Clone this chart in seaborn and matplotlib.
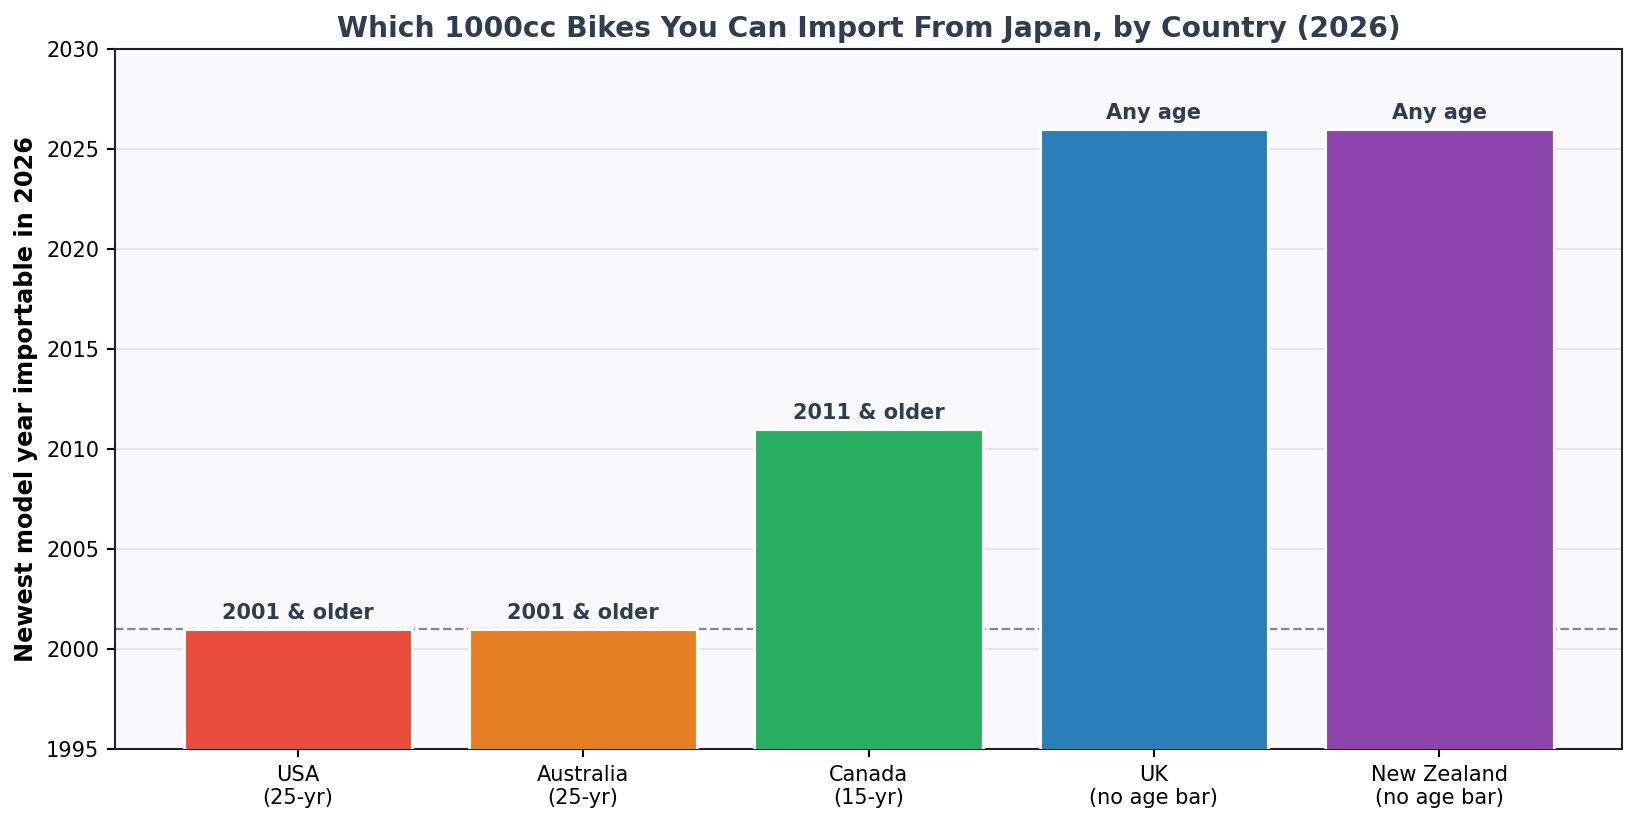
import matplotlib
matplotlib.use("Agg")
import matplotlib.pyplot as plt
import seaborn as sns
import pandas as pd

countries = ["USA\n(25-yr)", "Australia\n(25-yr)", "Canada\n(15-yr)", "UK\n(no age bar)", "New Zealand\n(no age bar)"]
newest_year = [2001, 2001, 2011, 2026, 2026]
bar_labels = ["2001 & older", "2001 & older", "2011 & older", "Any age", "Any age"]
colors = ["#e74c3c", "#e67e22", "#27ae60", "#2980b9", "#8e44ad"]

df = pd.DataFrame({"country": countries, "year": newest_year})

sns.set_style("white")
plt.rcParams['font.family'] = ['DejaVu Sans']

fig = plt.figure(figsize=(1636/150, 822/150), dpi=150)
ax = fig.add_axes([115/1636, 1-749/822, (1622-115)/1636, (749-49)/822])
ax.set_facecolor("#fafafc")

sns.barplot(data=df, x="country", y="year", hue="country", palette=colors,
            legend=False, width=0.8, edgecolor="white", linewidth=1.5,
            ax=ax, zorder=3, saturation=1)

ax.axhline(2001, color="#7f8c8d", linestyle="--", linewidth=1.1, zorder=2)
ax.yaxis.grid(True, color="#e6e6ea", linewidth=1, zorder=0)
ax.set_axisbelow(True)

for i, (v, lab) in enumerate(zip(newest_year, bar_labels)):
    ax.text(i, v + 0.3, lab, ha="center", va="bottom", fontsize=10,
            fontweight="bold", color="#2c3e50", zorder=5)

ax.set_ylim(1995, 2030)
ax.set_xlim(-0.64, 4.64)
ax.set_yticks(range(1995, 2031, 5))
ax.set_xlabel("")
ax.set_ylabel("Newest model year importable in 2026", fontsize=11.5, fontweight="bold", color="black")
ax.set_title("Which 1000cc Bikes You Can Import From Japan, by Country (2026)",
             fontsize=13.5, fontweight="bold", color="#2c3e50", pad=6)
ax.tick_params(axis="both", labelsize=10, colors="black", length=4, width=1, bottom=True, left=True)
for s in ax.spines.values():
    s.set_visible(True)
    s.set_color("#222222")
    s.set_linewidth(1.0)

fig.savefig("out.png", dpi=150)
